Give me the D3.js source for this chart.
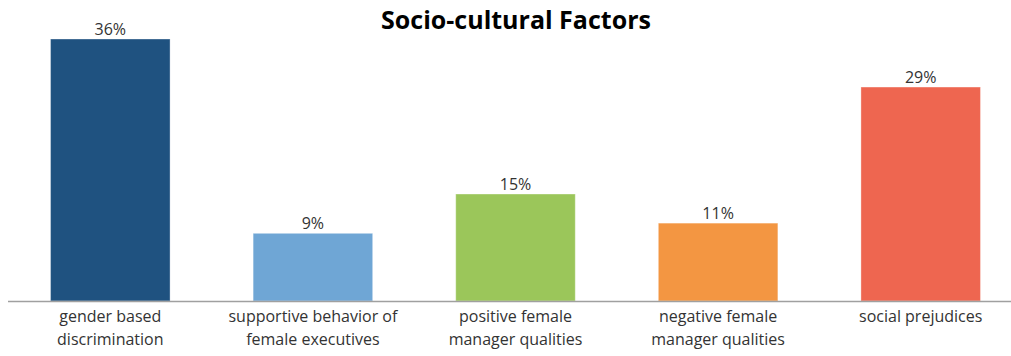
<!DOCTYPE html>
<html>
<head>
<meta charset="utf-8">
<script src="https://cdn.jsdelivr.net/npm/d3@7"></script>
<style>
  body { margin: 0; background: #fff; }
  text { font-family: "Open Sans", "Noto Sans", sans-serif; }
</style>
</head>
<body>
<div id="chart"></div>
<script>
// Socio-cultural factors bar chart

const categories = [
    ["gender based", "discrimination"],
    ["supportive behavior of", "female executives"],
    ["positive female", "manager qualities"],
    ["negative female", "manager qualities"],
    ["social prejudices"]
];
// shares in percent, labels show rounded values
const values = [36, 9.3, 14.7, 10.7, 29.4];
const colors = ["#1F5280", "#6FA6D5", "#9BC65A", "#F39642", "#EE6650"];

const width = 1011, height = 356;
const baseY = 301;

const svg = d3.select("#chart")
    .append("svg")
    .attr("width", width)
    .attr("height", height);

// X scale over category index
const x = d3.scaleBand()
    .domain(d3.range(values.length))
    .range([9, 1022])
    .paddingInner(0.41)
    .paddingOuter(0.205);

// Y scale
const y = d3.scaleLinear()
    .domain([0, 36])
    .range([baseY, 39]);

// Bars
svg.selectAll(".bar")
    .data(values)
    .enter()
    .append("rect")
    .attr("class", "bar")
    .attr("x", (d, i) => x(i))
    .attr("y", d => y(d))
    .attr("width", x.bandwidth())
    .attr("height", d => baseY - y(d))
    .attr("fill", (d, i) => colors[i])
    .attr("stroke", "#ffffff")
    .attr("stroke-opacity", 0.35)
    .attr("stroke-width", 1);

// Value labels
svg.selectAll(".val")
    .data(values)
    .enter()
    .append("text")
    .attr("class", "val")
    .attr("x", (d, i) => x(i) + x.bandwidth() / 2)
    .attr("y", d => y(d) - 4)
    .attr("text-anchor", "middle")
    .style("font-size", "16px")
    .style("fill", "#333")
    .text(d => Math.round(d) + "%");

// Baseline
svg.append("line")
    .attr("x1", 8)
    .attr("x2", 1011)
    .attr("y1", baseY + 0.5)
    .attr("y2", baseY + 0.5)
    .attr("stroke", "#a0a0a0")
    .attr("stroke-width", 1.5);

// Category labels (two lines)
const catLabels = svg.selectAll(".cat")
    .data(categories)
    .enter()
    .append("text")
    .attr("class", "cat")
    .attr("text-anchor", "middle")
    .style("font-size", "16px")
    .style("fill", "#333");

catLabels.selectAll("tspan")
    .data((d, i) => d.map(line => ({line, i})))
    .enter()
    .append("tspan")
    .attr("x", d => x(d.i) + x.bandwidth() / 2)
    .attr("y", (d, j) => 322 + j * 23)
    .text(d => d.line);

// Title
svg.append("text")
    .attr("x", 516)
    .attr("y", 29)
    .attr("text-anchor", "middle")
    .style("font-size", "25px")
    .style("font-weight", "bold")
    .style("fill", "#000")
    .text("Socio-cultural Factors");
</script>
</body>
</html>
